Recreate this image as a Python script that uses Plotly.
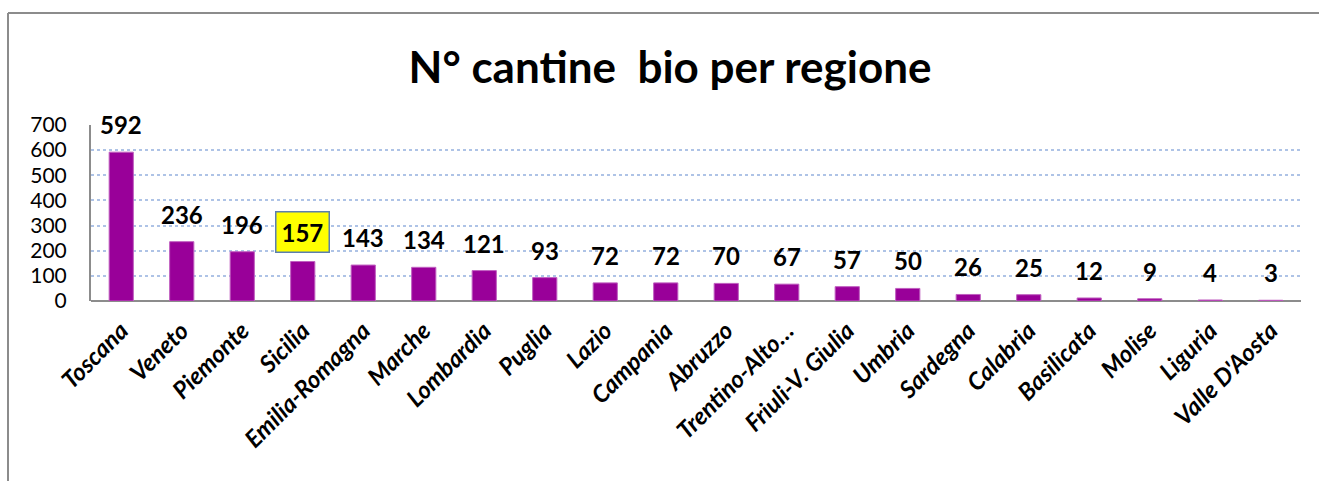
import plotly.graph_objects as go

regions = ["Toscana", "Veneto", "Piemonte", "Sicilia", "Emilia-Romagna", "Marche",
           "Lombardia", "Puglia", "Lazio", "Campania", "Abruzzo", "Trentino-Alto…",
           "Friuli-V. Giulia", "Umbria", "Sardegna", "Calabria", "Basilicata",
           "Molise", "Liguria", "Valle D'Aosta"]
values = [592, 236, 196, 157, 143, 134, 121, 93, 72, 72, 70, 67, 57, 50, 26, 25, 12, 9, 4, 3]
highlight = "Sicilia"
y_ticks = [0, 100, 200, 300, 400, 500, 600, 700]
title = "N° cantine&nbsp; bio per regione"

FONT = "Lato, 'Open Sans', sans-serif"

fig = go.Figure()
fig.add_trace(go.Bar(
    x=regions, y=values,
    marker=dict(color="#990099", line=dict(color="#c060c0", width=1)),
    width=0.4,
    hoverinfo="x+y",
))

for r, v in zip(regions, values):
    hl = r == highlight
    fig.add_annotation(
        x=r, y=v, xref="x", yref="y", text=f"<b>{v}</b>", showarrow=False,
        yanchor="bottom", yshift=13 if not hl else 9,
        font=dict(family=FONT, size=24, color="#000000"),
        bgcolor="#ffff00" if hl else None,
        bordercolor="#5b7fb0" if hl else None,
        borderwidth=1.5 if hl else 0,
        borderpad=5 if hl else 0,
    )

# outer frame (cropped chart border)
W, H = 1319, 481
ml, mr, mt, mb = 91, 18, 125, 180
pw, ph = W - ml - mr, H - mt - mb
fx = (8 - ml) / pw
fy = (H - mb - 13) / ph
fxr = (W - ml) / pw
fyb = -mb / ph
fig.add_shape(type="line", xref="paper", yref="paper", x0=fx, x1=fx, y0=fyb, y1=fy,
              line=dict(color="#8c8c8c", width=2))
fig.add_shape(type="line", xref="paper", yref="paper", x0=fx, x1=fxr, y0=fy, y1=fy,
              line=dict(color="#8c8c8c", width=2))

fig.update_layout(
    width=W, height=H,
    margin=dict(l=ml, r=mr, t=mt, b=mb, autoexpand=False),
    paper_bgcolor="white", plot_bgcolor="white",
    showlegend=False,
    title=dict(text=f"<b>{title}</b>", x=670 / W, xanchor="center",
               y=1 - 68 / H, yanchor="middle", automargin=False,
               font=dict(family=FONT, size=44, color="#000000")),
    font=dict(family=FONT),
    xaxis=dict(
        tickangle=-45, automargin=False,
        tickfont=dict(family=FONT, size=24, color="#000000", weight="bold", style="italic"),
        showline=False, ticks="", showgrid=False, ticklabelstandoff=10,
    ),
    yaxis=dict(
        range=[0, 700], tickvals=y_ticks, automargin=False,
        tickfont=dict(family=FONT, size=21, color="#000000"),
        showgrid=True, gridcolor="#aec3e6", griddash="dot", gridwidth=1.5,
        showline=True, linecolor="#8c8c8c", linewidth=2,
        zeroline=True, zerolinecolor="#8c8c8c", zerolinewidth=2,
        ticks="", ticklabelstandoff=18,
    ),
)

fig.write_html(
    "out.html",
    config={"displayModeBar": False},
    post_script="document.body.style.margin='0';document.body.style.overflow='hidden';",
)
